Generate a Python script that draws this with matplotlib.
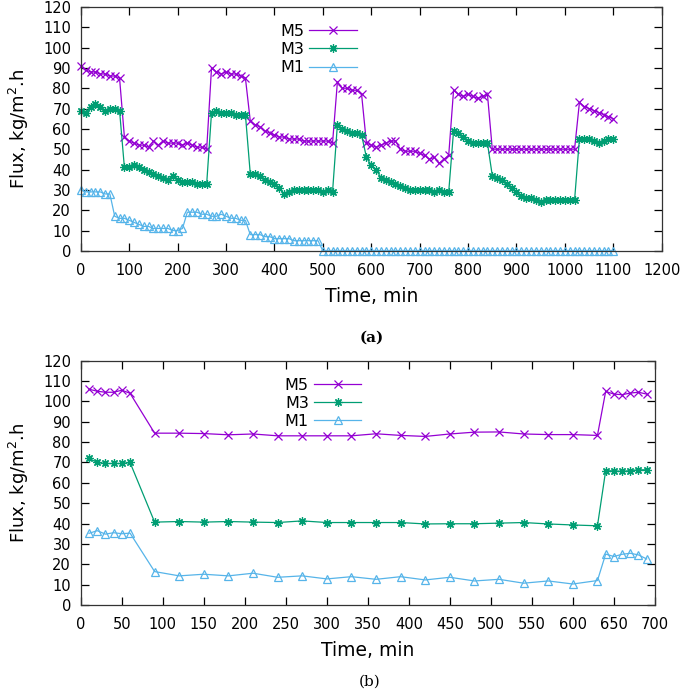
import matplotlib
matplotlib.use("Agg")
import matplotlib.pyplot as plt

# ---------- (a) ----------
time_a = list(range(0, 1101, 10))

m5_a = [
    91, 89, 88, 88, 87, 87, 86, 86, 85,
    56, 54, 53, 52, 52, 51, 54, 52, 54, 53, 53, 53, 52, 53, 52, 51, 51, 50,
    90, 88, 87, 88, 87, 87, 86, 85,
    64, 62, 61, 59, 58, 57, 56, 56, 55, 55, 55, 54, 54, 54, 54, 54, 54, 53,
    83, 80, 80, 79, 79, 77,
    53, 52, 51, 52, 53, 54, 54, 50, 49, 49, 49, 48, 47, 45, 46, 43, 45, 47,
    79, 77, 76, 77, 76, 75, 76, 77,
    50, 50, 50, 50, 50, 50, 50, 50, 50, 50, 50, 50, 50, 50, 50, 50, 50, 50,
    73, 71, 70, 69, 68, 67, 66, 65,
]

m3_a = [
    69, 68, 71, 72, 71, 69, 70, 70, 69,
    41, 41, 42, 41, 40, 39, 38, 37, 36, 35, 37, 35, 34, 34, 34, 33, 33, 33,
    68, 69, 68, 68, 68, 67, 67, 67,
    38, 38, 37, 35, 34, 33, 31, 28, 29, 30, 30, 30, 30, 30, 30, 29, 30, 29,
    62, 60, 59, 58, 58, 57,
    46, 42, 40, 36, 35, 34, 33, 32, 31, 30, 30, 30, 30, 30, 29, 30, 29, 29,
    59, 58, 56, 54, 53, 53, 53, 53,
    37, 36, 35, 33, 31, 29, 27, 26, 26, 25, 24, 25, 25, 25, 25, 25, 25, 25,
    55, 55, 55, 54, 53, 54, 55, 55,
]

m1_a = [
    30, 29, 29, 29, 29, 28, 28,
    17, 16, 16, 15, 14, 13, 12, 12, 11, 11, 11, 11, 10, 10, 11,
    19, 19, 19, 18, 18, 17, 17, 18, 17, 16, 16, 15, 15,
    8, 8, 8, 7, 7, 6, 6, 6, 6, 5, 5, 5, 5, 5, 5,
    0, 0, 0, 0, 0, 0, 0, 0, 0, 0, 0, 0, 0, 0, 0, 0, 0, 0, 0, 0,
    0, 0, 0, 0, 0, 0, 0, 0, 0, 0, 0, 0, 0, 0, 0, 0, 0, 0, 0, 0,
    0, 0, 0, 0, 0, 0, 0, 0, 0, 0, 0, 0, 0, 0, 0, 0, 0, 0, 0, 0, 0,
]

# ---------- (b) ----------
time_b = [10, 20, 30, 40, 50, 60,
          90, 120, 150, 180, 210, 240, 270, 300, 330, 360, 390, 420, 450,
          480, 510, 540, 570, 600, 630,
          640, 650, 660, 670, 680, 690]

m5_b = [106, 105, 104.5, 104.5, 105.5, 104,
        84.4, 84.4, 84.2, 83.6, 84, 83.1, 83.1, 83.1, 83.1, 84.1, 83.3, 82.8,
        84, 84.9, 85, 84, 83.7, 83.7, 83.3,
        104.9, 103.6, 103.3, 104.1, 104.5, 103.6]

m3_b = [72, 70, 69.5, 69.5, 69.5, 70,
        40.7, 41, 40.7, 41, 40.7, 40.5, 41.3, 40.5, 40.5, 40.5, 40.5, 39.8,
        39.9, 39.9, 40.2, 40.5, 39.8, 39.3, 38.9,
        65.9, 65.9, 65.6, 66, 66.4, 66.4]

m1_b = [35.2, 36.5, 34.8, 35.5, 35, 35.3,
        16.4, 14.3, 15.1, 14.3, 15.6, 13.6, 14.3, 12.8, 13.9, 12.6, 13.9, 12.3,
        13.6, 11.8, 12.6, 10.7, 11.8, 10.3, 12,
        25, 23.8, 24.9, 25.4, 24.6, 22.6]

labels = ["M5", "M3", "M1"]
colors = ["#9400d3", "#009e73", "#56b4e9"]
markers = ["x", (8, 2, 0), "^"]

plt.rcParams["font.family"] = ["DejaVu Sans"]

fig = plt.figure(figsize=(6.85, 6.91), dpi=100)
ax1 = fig.add_axes([0.118, 0.637, 0.848, 0.353])
ax2 = fig.add_axes([0.118, 0.1245, 0.838, 0.3535])


def draw(ax, t, series, xmax, xstep):
    for y, lab, c, mk in zip(series, labels, colors, markers):
        mfc = "none" if mk == "^" else c
        ax.plot(t, y, color=c, lw=0.9, marker=mk, ms=6, mew=0.9,
                mfc=mfc, label=lab, clip_on=False)
    ax.set_xlim(0, xmax)
    ax.set_ylim(0, 120)
    ax.set_xticks(range(0, xmax + 1, xstep))
    ax.set_yticks(range(0, 121, 10))
    ax.tick_params(direction="in", top=True, right=True, length=6,
                   width=0.9, labelsize=10.5, pad=7)
    ax.tick_params(axis="x", pad=9)
    for s in ax.spines.values():
        s.set_linewidth(0.9)
        s.set_color("#333333")
    ax.set_xlabel("Time, min", fontsize=13.5, labelpad=6)
    ax.set_ylabel("Flux, kg/m$^2$.h", fontsize=13, labelpad=9)
    leg = ax.legend(loc="upper left", markerfirst=False, frameon=False,
                    fontsize=11.5, handlelength=3.0, handletextpad=0.3,
                    labelspacing=0.2)
    return leg


leg1 = draw(ax1, time_a, [m5_a, m3_a, m1_a], 1200, 100)
leg1.set_bbox_to_anchor((0.318, 0.99), transform=ax1.transAxes)
leg2 = draw(ax2, time_b, [m5_b, m3_b, m1_b], 700, 50)
leg2.set_bbox_to_anchor((0.33, 0.99), transform=ax2.transAxes)

fig.text(0.542, 0.511, "(a)", fontsize=11, fontweight="bold",
         family="DejaVu Serif", ha="center", va="center")
fig.text(0.539, 0.013, "(b)", fontsize=11, family="DejaVu Serif",
         ha="center", va="center")

fig.savefig("out.png", dpi=100)
